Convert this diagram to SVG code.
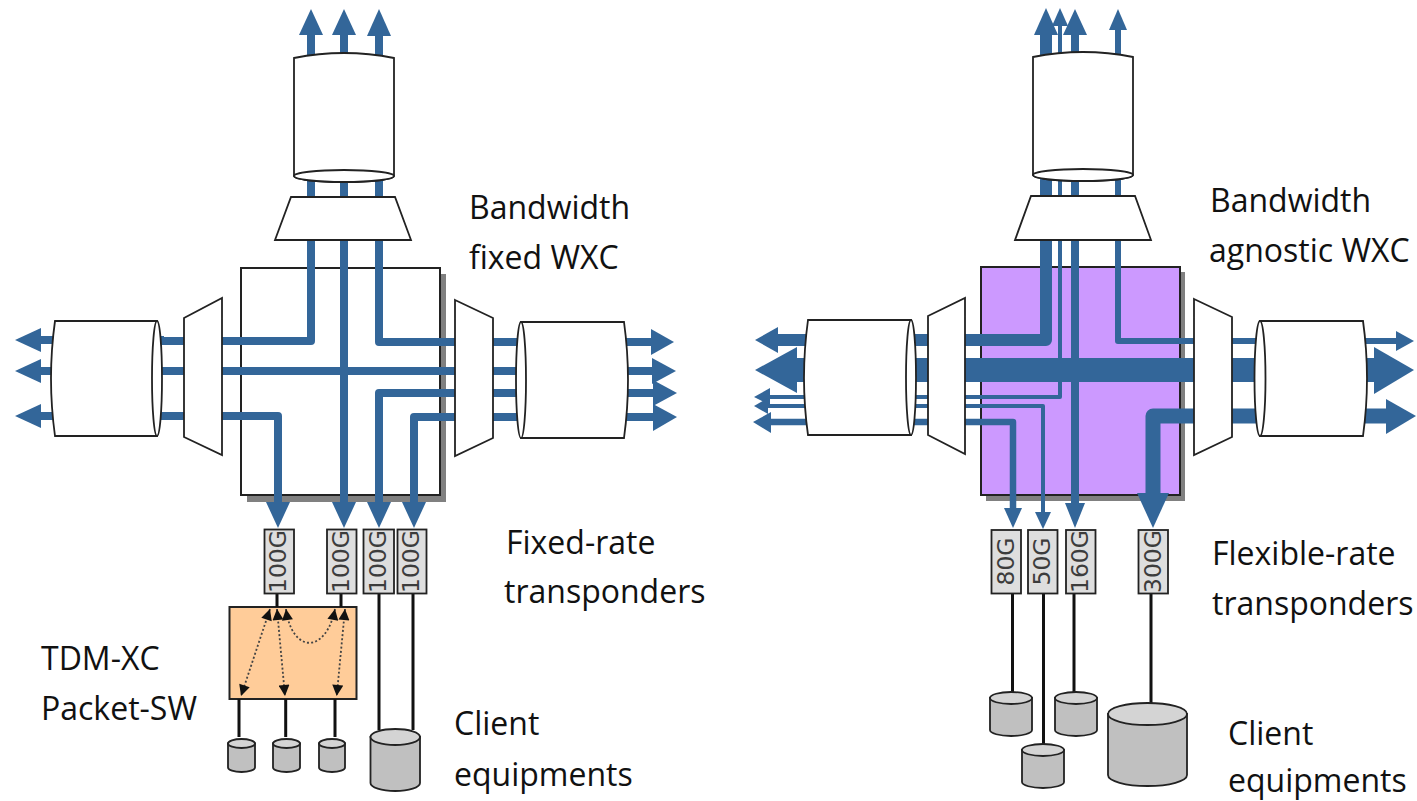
<svg xmlns="http://www.w3.org/2000/svg" width="1417" height="801" viewBox="0 0 1417 801">
<style>
.b{fill:none;stroke:#336699;stroke-linejoin:round}
.h{fill:#336699}
.w{fill:#fff;stroke:#222;stroke-width:1.8}
.sh{fill:#808080}
.t{fill:#dedede;stroke:#222;stroke-width:1.8}
.tt{font-family:"DejaVu Sans",sans-serif;font-size:23.5px;fill:#3c3c3c;text-anchor:middle}
.k{fill:none;stroke:#111;stroke-width:3}
.c{fill:#c0c0c0;stroke:#222;stroke-width:1.8}
.ct{fill:#d4d4d4;stroke:#222;stroke-width:1.8}
.d{fill:none;stroke:#444;stroke-width:1.8;stroke-dasharray:2 2.2;marker-start:url(#ah);marker-end:url(#ah)}
.l{font-family:"Open Sans","Noto Sans",sans-serif;font-size:32px;fill:#111}
</style>
<defs>
<marker id="ah" viewBox="0 0 10 10" refX="10" refY="5" markerWidth="12" markerHeight="11" markerUnits="userSpaceOnUse" orient="auto-start-reverse"><path d="M0 0L10 5L0 10Z" fill="#111"/></marker>
</defs>
<rect width="1417" height="801" fill="#fff"/>

<g id="wxc-fixed"><rect class="sh" x="247" y="274" width="199" height="228"/><rect x="241" y="268" width="199" height="227" fill="#fff" stroke="#222" stroke-width="2"/></g>
<g id="wxc-agnostic"><rect class="sh" x="986" y="272" width="199" height="229"/><rect x="981" y="267" width="199" height="228" fill="#cc99ff" stroke="#222" stroke-width="2"/></g>
<g id="tdm-xc"><rect x="229.500" y="607" width="127" height="92" fill="#ffcc99" stroke="#222" stroke-width="2"/></g>

<g id="connectors">
<g stroke-width="8" class="b">
<path d="M311 30V341H160"/><path d="M344 30V510"/><path d="M379 30V342H530"/>
<path d="M160 371H530"/><path d="M530 393H379V510"/><path d="M530 417H414V510"/>
<path d="M160 416H278V510"/>
<path d="M36 340H164M36 371H164M36 416H164"/>
<path d="M620 342H655M620 371H655M620 393H655M620 417H655"/>
</g>
<polygon class="h" points="311,9 323,35 299,35"/><polygon class="h" points="344,9 356,35 332,35"/><polygon class="h" points="379,9 391,36 367,36"/>
<polygon class="h" points="15,340 41,328 41,352"/><polygon class="h" points="15,371 41,359 41,383"/><polygon class="h" points="15,416 41,404 41,428"/>
<polygon class="h" points="674,342 651,329 651,355"/><polygon class="h" points="676,371 652,358 652,384"/><polygon class="h" points="677,393 653,380 653,406"/><polygon class="h" points="677,417 653,404 653,431"/>
<polygon class="h" points="278,528 266,502 290,502"/><polygon class="h" points="344,528 332,502 356,502"/><polygon class="h" points="379,528 367,502 391,502"/><polygon class="h" points="414,528 402,502 426,502"/>

<g class="b">
<path stroke-width="12" d="M1046 30V340H775"/>
<path stroke-width="4" d="M1060 25V397H768"/>
<path stroke-width="8" d="M1075 30V510"/>
<path stroke-width="6" d="M1118 28V341H1396"/>
<path stroke-width="24" d="M790 370H1380"/>
<path stroke-width="4" d="M766 406H1043V515"/>
<path stroke-width="6.500" d="M768 422H1013V512"/>
<path stroke-width="15" d="M1395 416H1153V500"/>
</g>
<polygon class="h" points="1046,8 1058,35 1034,35"/><polygon class="h" points="1060,8 1068,26 1052,26"/><polygon class="h" points="1075,9 1087,35 1063,35"/><polygon class="h" points="1118,9 1127,30 1109,30"/>
<polygon class="h" points="755,340 778,327 778,353"/><polygon class="h" points="755,370 797,347 797,393"/><polygon class="h" points="754,397 770,388 770,405"/><polygon class="h" points="754,406 768,398 768,414"/><polygon class="h" points="753,422 771,412 771,433"/>
<polygon class="h" points="1414,341 1396,331 1396,351"/><polygon class="h" points="1414,370 1374,347 1374,394"/><polygon class="h" points="1416,416 1386,399 1386,434"/>
<polygon class="h" points="1013,528 1004,508 1022,508"/><polygon class="h" points="1043,529 1035,512 1051,512"/><polygon class="h" points="1075,528 1065,503 1085,503"/><polygon class="h" points="1153,528 1137,493 1169,493"/>

<path class="k" d="M277 593V607M341 593V607M239 699V737M285.700 699V737M335 699V737M379 593V730M413 593V730"/>
<path class="k" d="M1012.500 593V692M1043.500 593V745M1074 593V692M1151 593V703"/>
<path class="d" d="M270 609L241 696"/>
<path class="d" d="M277 609L285 696"/>
<path class="d" d="M345 609L336.700 696"/>
<path class="d" d="M286 609C292 654 326 654 335 609"/>
</g>

<g id="mux-top-l"><polygon class="w" points="291,197 395,197 411,240 275,240"/></g>
<g id="amp-top-l"><path class="w" d="M294 58Q344 48 394 58V176A50 6 0 0 1 294 176Z"/><ellipse class="w" cx="344" cy="176" rx="50" ry="6"/></g>
<g id="mux-left-l"><polygon class="w" points="222,298 222,455 184,437 184,318"/></g>
<g id="amp-left-l"><path class="w" d="M157 321H55Q47 378 55 436H157Z"/><ellipse class="w" cx="157" cy="378.500" rx="5" ry="57.500"/></g>
<g id="mux-right-l"><polygon class="w" points="455,300 493,318 493,438 455,456"/></g>
<g id="amp-right-l"><path class="w" d="M521 322H624Q632 380 624 438H521Z"/><ellipse class="w" cx="521" cy="380" rx="5" ry="58"/></g>

<g id="mux-top-r"><polygon class="w" points="1031,196 1135,196 1151,240 1015,240"/></g>
<g id="amp-top-r"><path class="w" d="M1033 57Q1083 47 1133 57V175A50 6 0 0 1 1033 175Z"/><ellipse class="w" cx="1083" cy="175" rx="50" ry="6"/></g>
<g id="mux-left-r"><polygon class="w" points="965,298 965,454 928,435 928,316"/></g>
<g id="amp-left-r"><path class="w" d="M911 320H808Q800 378 808 435H911Z"/><ellipse class="w" cx="911" cy="377.500" rx="5" ry="57.500"/></g>
<g id="mux-right-r"><polygon class="w" points="1194,299 1232,317 1232,437 1194,455"/></g>
<g id="amp-right-r"><path class="w" d="M1260 321H1363Q1371 378 1363 436H1260Z"/><ellipse class="w" cx="1260" cy="378.500" rx="5.500" ry="57.500"/></g>

<g id="tp-1"><rect class="t" x="264.500" y="529.500" width="29.500" height="64"/><text class="tt" transform="translate(286 561.500) rotate(-90)">100G</text></g>
<g id="tp-2"><rect class="t" x="327" y="529.500" width="29.500" height="64"/><text class="tt" transform="translate(349 561.500) rotate(-90)">100G</text></g>
<g id="tp-3"><rect class="t" x="363.500" y="529.500" width="30.500" height="64"/><text class="tt" transform="translate(386 561.500) rotate(-90)">100G</text></g>
<g id="tp-4"><rect class="t" x="397.500" y="529.500" width="29" height="64"/><text class="tt" transform="translate(419 561.500) rotate(-90)">100G</text></g>
<g id="tp-5"><rect class="t" x="991.500" y="530" width="29.500" height="63.500"/><text class="tt" transform="translate(1013.500 561.500) rotate(-90)">80G</text></g>
<g id="tp-6"><rect class="t" x="1028" y="530" width="29.500" height="63.500"/><text class="tt" transform="translate(1050 561.500) rotate(-90)">50G</text></g>
<g id="tp-7"><rect class="t" x="1066" y="530" width="29.500" height="63.500"/><text class="tt" transform="translate(1088 561.500) rotate(-90)">160G</text></g>
<g id="tp-8"><rect class="t" x="1138.500" y="530" width="29.500" height="63.500"/><text class="tt" transform="translate(1160.500 561.500) rotate(-90)">300G</text></g>

<g id="client-1"><path class="c" d="M228 743.500V767.500A13.500 4.500 0 0 0 255 767.500V743.500Z"/><ellipse class="ct" cx="241.500" cy="743.500" rx="13.500" ry="4.500"/></g>
<g id="client-2"><path class="c" d="M273 743.500V767.500A13.500 4.500 0 0 0 300 767.500V743.500Z"/><ellipse class="ct" cx="286.500" cy="743.500" rx="13.500" ry="4.500"/></g>
<g id="client-3"><path class="c" d="M319 743.500V767.500A13 4.500 0 0 0 345 767.500V743.500Z"/><ellipse class="ct" cx="332" cy="743.500" rx="13" ry="4.500"/></g>
<g id="client-4"><path class="c" d="M370.500 737V783A24.750 8 0 0 0 420 783V737Z"/><ellipse class="ct" cx="395.250" cy="737" rx="24.750" ry="8"/></g>
<g id="client-5"><path class="c" d="M990 698V730A21 6 0 0 0 1032 730V698Z"/><ellipse class="ct" cx="1011" cy="698" rx="21" ry="6"/></g>
<g id="client-6"><path class="c" d="M1022 750V782A21 6 0 0 0 1064 782V750Z"/><ellipse class="ct" cx="1043" cy="750" rx="21" ry="6"/></g>
<g id="client-7"><path class="c" d="M1055 698V730A21 6 0 0 0 1097 730V698Z"/><ellipse class="ct" cx="1076" cy="698" rx="21" ry="6"/></g>
<g id="client-8"><path class="c" d="M1108 714V775A39.500 11 0 0 0 1187 775V714Z"/><ellipse class="ct" cx="1147.500" cy="714" rx="39.500" ry="11"/></g>

<g id="labels">
<text class="l" x="469" y="219">Bandwidth</text>
<text class="l" x="469" y="269">fixed WXC</text>
<text class="l" x="506" y="554">Fixed-rate</text>
<text class="l" x="504" y="603">transponders</text>
<text class="l" x="41" y="670">TDM-XC</text>
<text class="l" x="41" y="720">Packet-SW</text>
<text class="l" x="454" y="735">Client</text>
<text class="l" x="454" y="786">equipments</text>
<text class="l" x="1210" y="212">Bandwidth</text>
<text class="l" x="1209" y="262">agnostic WXC</text>
<text class="l" x="1212" y="565">Flexible-rate</text>
<text class="l" x="1212" y="615">transponders</text>
<text class="l" x="1228" y="745">Client</text>
<text class="l" x="1228" y="792">equipments</text>
</g>
</svg>
